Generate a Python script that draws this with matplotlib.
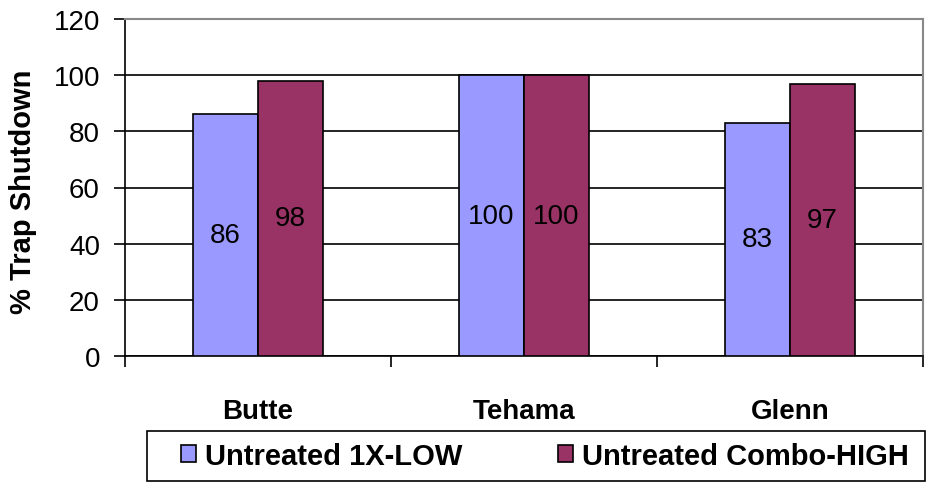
import numpy as np
import matplotlib.pyplot as plt
from matplotlib.patches import Rectangle

counties = ['Butte', 'Tehama', 'Glenn']
low_1x = [86, 100, 83]
combo_high = [98, 100, 97]
series_names = ['Untreated 1X-LOW', 'Untreated Combo-HIGH']
y_ticks = [0, 20, 40, 60, 80, 100, 120]

plt.rcParams['font.family'] = ['Liberation Sans', 'DejaVu Sans']

W, H = 927, 485
fig = plt.figure(figsize=(W / 100, H / 100), dpi=100)
ax = fig.add_axes([125 / W, 1 - 357 / H, 798 / W, 337 / H])

x = np.arange(len(counties))
w = 0.245
b1 = ax.bar(x - w / 2, low_1x, w, color='#9999FF', edgecolor='black', linewidth=1.2,
            label=series_names[0], zorder=3)
b2 = ax.bar(x + w / 2, combo_high, w, color='#993366', edgecolor='black', linewidth=1.2,
            label=series_names[1], zorder=3)

# value labels in the middle of each bar
for bars in (b1, b2):
    for r in bars:
        h = r.get_height()
        ax.text(r.get_x() + r.get_width() / 2, h / 2, f'{h:g}', ha='center', va='center',
                fontsize=20, zorder=4)

ax.set_xlim(-0.5, len(counties) - 0.5)
ax.set_ylim(0, 120)
ax.set_yticks(y_ticks)
ax.tick_params(axis='y', labelsize=20, length=8, width=1.2, direction='out', pad=10)
ax.yaxis.grid(True, color='black', linewidth=1.2, zorder=0)
ax.set_axisbelow(True)

# category ticks at group boundaries, labels in the middle
ax.set_xticks(np.arange(-0.5, len(counties)), minor=False)
ax.set_xticklabels([])
ax.set_xticks(x, minor=True)
ax.set_xticklabels(counties, minor=True, fontsize=20, fontweight='bold')
ax.tick_params(axis='x', which='major', length=8, width=1.2)
ax.tick_params(axis='x', which='minor', length=0, pad=30)

fig.text(23 / W, 1 - 192 / H, '% Trap Shutdown', rotation=90, ha='center', va='center',
         fontsize=21, fontweight='bold')

for s in ['top', 'right']:
    ax.spines[s].set_color('#888888')
    ax.spines[s].set_linewidth(1.5)
for s in ['left', 'bottom']:
    ax.spines[s].set_color('black')
    ax.spines[s].set_linewidth(1.2)

leg = fig.legend(loc='center', bbox_to_anchor=(545 / W, 1 - 457 / H),
                 ncol=2, prop={'weight': 'bold', 'size': 21},
                 frameon=False, handlelength=0.5, handleheight=0.5,
                 handletextpad=0.3, columnspacing=3.3, borderaxespad=0, borderpad=0)
fig.patches.append(Rectangle((147 / W, 3 / H), 778 / W, 50 / H, transform=fig.transFigure,
                             fill=False, edgecolor='black', linewidth=1.2))

plt.savefig('out.png', dpi=100)
